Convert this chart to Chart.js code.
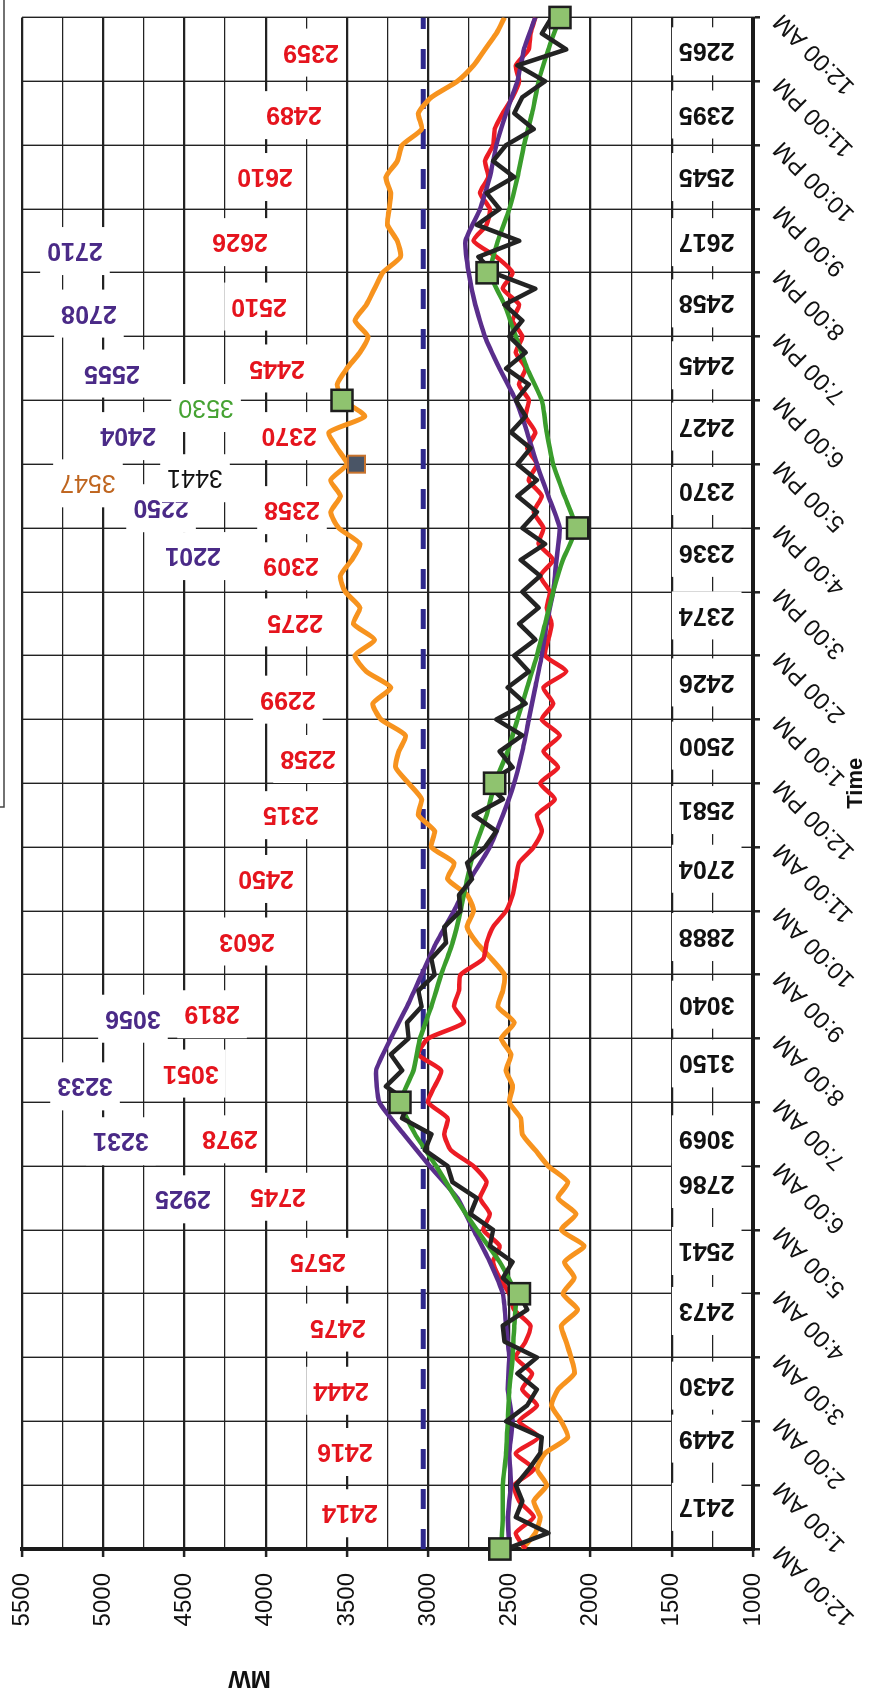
<!DOCTYPE html>
<html>
<head>
<meta charset="utf-8">
<script src="https://cdn.jsdelivr.net/npm/chart.js@4.4.0/dist/chart.umd.min.js"></script>
<style>
  html, body { margin: 0; padding: 0; background: #fff; overflow: hidden; }
  /* the scanned chart is turned on its side, so the whole chart is rotated */
  #wrap { position: absolute; left: 0; top: 0; width: 1697px; height: 869px;
          transform-origin: 0 0; transform: translateY(1697px) rotate(-90deg); }
</style>
</head>
<body>
<div id="wrap"><canvas id="myChart" width="1697" height="869"></canvas></div>
<script>
const timeLabels = ['12:00 AM', '1:00 AM', '2:00 AM', '3:00 AM', '4:00 AM', '5:00 AM', '6:00 AM', '7:00 AM',
  '8:00 AM', '9:00 AM', '10:00 AM', '11:00 AM', '12:00 PM', '1:00 PM', '2:00 PM', '3:00 PM', '4:00 PM',
  '5:00 PM', '6:00 PM', '7:00 PM', '8:00 PM', '9:00 PM', '10:00 PM', '11:00 PM', '12:00 AM'];

// sample times (hours)
const quarterHours = Array.from({ length: 97 }, (_, i) => i / 4);
const halfHours = Array.from({ length: 49 }, (_, i) => i / 2);

// MW, every 15 min
const redMW = [2400, 2460, 2350, 2440, 2470, 2350, 2460, 2320, 2440, 2330, 2420, 2360, 2460, 2400, 2370, 2470,
  2500, 2560, 2600, 2560, 2660, 2620, 2680, 2640, 2720, 2860, 2900, 2880, 3000, 2960, 2920, 3060,
  3000, 2780, 2840, 2810, 2800, 2660, 2640, 2600, 2520, 2480, 2460, 2440, 2350, 2300, 2330, 2220,
  2310, 2200, 2290, 2190, 2300, 2230, 2290, 2150, 2280, 2260, 2240, 2270, 2250, 2310, 2230, 2320,
  2290, 2350, 2300, 2380, 2330, 2390, 2340, 2400, 2380, 2440, 2400, 2460, 2420, 2480, 2440, 2540,
  2480, 2580, 2720, 2640, 2620, 2680, 2630, 2650, 2600, 2590, 2540, 2480, 2440, 2460, 2380, 2370, 2340];
const blackMW = [2520, 2260, 2460, 2420, 2460, 2380, 2310, 2300, 2520, 2390, 2330, 2450, 2330, 2530, 2540, 2390,
  2440, 2540, 2480, 2620, 2600, 2740, 2700, 2850, 2880, 3020, 2980, 3160, 3120, 3260, 3160, 3230,
  3120, 3130, 3040, 3060, 2960, 2980, 2890, 2900, 2800, 2810, 2730, 2760, 2650, 2580, 2720, 2540,
  2640, 2480, 2560, 2420, 2580, 2400, 2510, 2380, 2470, 2340, 2440, 2320, 2420, 2310, 2430, 2280,
  2420, 2330, 2450, 2330, 2450, 2370, 2490, 2400, 2460, 2380, 2520, 2400, 2500, 2420, 2530, 2340,
  2600, 2690, 2440, 2700, 2560, 2640, 2470, 2600, 2520, 2350, 2470, 2420, 2280, 2450, 2150, 2300, 2240];
const orangeMW = [2420, 2340, 2310, 2350, 2270, 2330, 2280, 2140, 2180, 2240, 2200, 2100, 2120, 2150, 2180, 2080,
  2170, 2100, 2160, 2040, 2180, 2090, 2200, 2140, 2260, 2340, 2420, 2430, 2500, 2480, 2520, 2490,
  2550, 2470, 2570, 2540, 2530, 2610, 2700, 2760, 2720, 2760, 2880, 2840, 2980, 2960, 3060, 3040,
  3120, 3200, 3180, 3140, 3290, 3340, 3230, 3380, 3450, 3330, 3460, 3420, 3510, 3540, 3470, 3420,
  3550, 3600, 3540, 3600, 3500, 3560, 3610, 3390, 3520, 3560, 3500, 3420, 3370, 3450, 3380, 3330,
  3280, 3170, 3190, 3250, 3240, 3230, 3260, 3190, 3160, 3040, 3060, 2980, 2820, 2720, 2650, 2580, 2530];

// MW, every 30 min
const purpleMW = [2500, 2510, 2490, 2500, 2480, 2510, 2500, 2520, 2540, 2620, 2720, 2820, 2990, 3150, 3300, 3320,
  3230, 3130, 3040, 2950, 2840, 2740, 2620, 2540, 2470, 2420, 2380, 2340, 2300, 2270, 2230, 2210,
  2190, 2260, 2330, 2390, 2460, 2560, 2650, 2710, 2750, 2770, 2680, 2620, 2580, 2520, 2450, 2410, 2340];
const greenMW = [2550, 2540, 2540, 2520, 2510, 2500, 2480, 2470, 2460, 2560, 2700, 2830, 2950, 3080, 3170, 3090,
  3050, 2980, 2920, 2850, 2800, 2760, 2710, 2640, 2590, 2510, 2450, 2390, 2330, 2280, 2230, 2170,
  2090, 2160, 2230, 2270, 2300, 2390, 2460, 2530, 2620, 2570, 2500, 2450, 2410, 2360, 2320, 2260, 2190];

const markerHours = [0, 4, 7, 12, 16, 18, 20, 24];
const markerMW = [2558, 2438, 3173, 2590, 2080, 3530, 2637, 2188];
const darkMarkerHour = 17;
const darkMarkerMW = 3441;
const limitMW = 3030;

// written values and where they sit (hour, MW)
const redLabels = [2414, 2416, 2444, 2475, 2575, 2745, 2978, 3051, 2819, 2603, 2450, 2315,
  2258, 2299, 2275, 2309, 2358, 2370, 2445, 2510, 2626, 2610, 2489, 2359];
const redLabelHours = [0.56, 1.52, 2.48, 3.47, 4.5, 5.52, 6.42, 7.45, 8.38, 9.52, 10.5, 11.5,
  12.38, 13.31, 14.52, 15.4, 16.28, 17.44, 18.5, 19.47, 20.48, 21.5, 22.47, 23.45];
const redLabelAt = [3481, 3512, 3536, 3555, 3678, 3924, 4220, 4460, 4330, 4115, 3998, 3844,
  3739, 3863, 3819, 3844, 3838, 3856, 3930, 4041, 4158, 4004, 3826, 3721];

const purpleLabels = [2925, 3231, 3233, 3056, 2201, 2250, 2404, 2555, 2708, 2710];
const purpleLabelHours = [5.48, 6.39, 7.25, 8.31, 15.56, 16.31, 17.44, 18.42, 19.36, 20.34];
const purpleLabelAt = [4509, 4891, 5112, 4817, 4447, 4644, 4847, 4946, 5088, 5174];

const hourlyLabels = [2417, 2449, 2430, 2473, 2541, 2786, 3069, 3150, 3040, 2888, 2704, 2581,
  2500, 2426, 2374, 2336, 2370, 2427, 2445, 2458, 2617, 2545, 2395, 2265];
const hourlyLabelHours = [0.66, 1.73, 2.56, 3.73, 4.67, 5.72, 6.42, 7.61, 8.53, 9.59, 10.66, 11.58,
  12.59, 13.58, 14.63, 15.61, 16.58, 17.59, 18.55, 19.52, 20.48, 21.5, 22.48, 23.47];
const hourlyLabelAt = 1285;

const otherLabels = [3547, 3441, 3530];
const otherLabelHours = [16.70, 16.78, 17.88];
const otherLabelAt = [5094, 4435, 4367];
const otherLabelColors = ['#bf651f', '#111111', '#45a232'];

const FONT = "'Liberation Sans', Arial, sans-serif";
Chart.defaults.font.family = FONT;

const pts = (hs, vs) => vs.map((v, i) => ({ x: hs[i], y: v }));

const labelGroups = [
  { values: redLabels, hours: redLabelHours, at: redLabelAt, colors: redLabels.map(() => '#e5141d'), font: 'bold 25px ' + FONT },
  { values: purpleLabels, hours: purpleLabelHours, at: purpleLabelAt, colors: purpleLabels.map(() => '#4a2a87'), font: 'bold 25px ' + FONT },
  { values: hourlyLabels, hours: hourlyLabelHours, at: hourlyLabels.map(() => hourlyLabelAt), colors: hourlyLabels.map(() => '#111'), font: 'bold 25px ' + FONT },
  { values: otherLabels, hours: otherLabelHours, at: otherLabelAt, colors: otherLabelColors, font: '25px ' + FONT }
];

const valueLabels = {
  id: 'valueLabels',
  afterDatasetsDraw(chart) {
    const { ctx, scales: { x, y } } = chart;
    labelGroups.forEach(g => {
      g.values.forEach((v, i) => {
        const px = x.getPixelForValue(g.hours[i]);
        const py = y.getPixelForValue(g.at[i]);
        const txt = String(v);
        ctx.save();
        ctx.translate(px, py);
        ctx.rotate(-Math.PI / 2);
        ctx.font = g.font;
        const w = ctx.measureText(txt).width;
        ctx.fillStyle = '#fff';
        ctx.fillRect(-w / 2 - 7, -24, w + 14, 48);
        ctx.fillStyle = g.colors[i];
        ctx.textAlign = 'center';
        ctx.textBaseline = 'middle';
        ctx.fillText(txt, 0, 1);
        ctx.restore();
      });
    });
  },
  afterDraw(chart) {
    const { ctx, scales: { y } } = chart;
    // y axis title
    ctx.save();
    ctx.translate(19, y.getPixelForValue(4100));
    ctx.rotate(-Math.PI / 2);
    ctx.font = 'bold 24px ' + FONT;
    ctx.fillStyle = '#111';
    ctx.textAlign = 'center';
    ctx.textBaseline = 'middle';
    ctx.fillText('MW', 0, 0);
    ctx.restore();
    // edge of the legend box, cut off by the scan
    ctx.save();
    ctx.strokeStyle = '#444';
    ctx.lineWidth = 1.5;
    ctx.beginPath();
    ctx.moveTo(890, 0);
    ctx.lineTo(890, 4);
    ctx.lineTo(chart.width, 4);
    ctx.stroke();
    ctx.restore();
  }
};

const is500 = c => c.tick && c.tick.value % 500 === 0;

const ctx = document.getElementById('myChart').getContext('2d');

const myChart = new Chart(ctx, {
  type: 'line',
  data: {
    datasets: [
      {
        data: pts(markerHours, markerMW), showLine: false, clip: false,
        pointStyle: 'rect', pointRadius: 15,
        pointBackgroundColor: '#8fc36f', pointBorderColor: '#1e1e1e', pointBorderWidth: 2.5
      },
      {
        data: [{ x: darkMarkerHour, y: darkMarkerMW }], showLine: false,
        pointStyle: 'rect', pointRadius: 12,
        pointBackgroundColor: '#4a5566', pointBorderColor: '#c8742e', pointBorderWidth: 2
      },
      { data: pts(quarterHours, blackMW), borderColor: '#232323', borderWidth: 4.5, pointRadius: 0, tension: 0, borderJoinStyle: 'round' },
      { data: pts(halfHours, greenMW), borderColor: '#3a9d2c', borderWidth: 4.5, pointRadius: 0, tension: 0.15 },
      { data: pts(halfHours, purpleMW), borderColor: '#5a2e8c', borderWidth: 4.5, pointRadius: 0, tension: 0.15 },
      { data: pts(quarterHours, redMW), borderColor: '#ec1c24', borderWidth: 4.5, pointRadius: 0, tension: 0.2, borderJoinStyle: 'round' },
      { data: pts(quarterHours, orangeMW), borderColor: '#f7931e', borderWidth: 5, pointRadius: 0, tension: 0.2, borderJoinStyle: 'round' },
      {
        data: [{ x: 0, y: limitMW }, { x: 24, y: limitMW }],
        borderColor: '#2f2a8c', borderWidth: 5, borderDash: [20, 20], pointRadius: 0
      }
    ]
  },
  options: {
    responsive: false,
    animation: false,
    devicePixelRatio: 1,
    layout: { padding: { top: 22, right: 14, bottom: 0, left: 0 } },
    scales: {
      x: {
        type: 'linear',
        min: 0,
        max: 24,
        afterFit: s => { s.height = 116; s.paddingLeft = 0; s.paddingRight = 0; },
        ticks: {
          stepSize: 1,
          autoSkip: false,
          minRotation: 45,
          maxRotation: 45,
          padding: 8,
          color: '#111',
          font: { size: 24 },
          callback: v => timeLabels[v]
        },
        grid: { color: '#222', lineWidth: 1.4, tickLength: 7, tickWidth: 2.5, tickColor: '#222' },
        border: { color: '#1a1a1a', width: 4 },
        title: {
          display: true,
          text: 'Time',
          color: '#111',
          font: { size: 22, weight: 'bold' },
          padding: { top: 0, bottom: 0 }
        }
      },
      y: {
        min: 1000,
        max: 5500,
        afterFit: s => { s.width = 148; s.paddingTop = 0; s.paddingBottom = 0; },
        ticks: {
          stepSize: 250,
          padding: 16,
          color: '#111',
          font: { size: 24 },
          callback: v => v % 500 === 0 ? String(v) : ''
        },
        grid: {
          color: '#222',
          lineWidth: c => is500(c) ? 2.2 : 1.3,
          tickLength: 8,
          tickWidth: 2.5,
          tickColor: c => is500(c) ? '#222' : 'rgba(0,0,0,0)'
        },
        border: { color: '#1a1a1a', width: 4 }
      }
    },
    plugins: {
      legend: { display: false },
      tooltip: { enabled: false }
    }
  },
  plugins: [valueLabels]
});
</script>
</body>
</html>
